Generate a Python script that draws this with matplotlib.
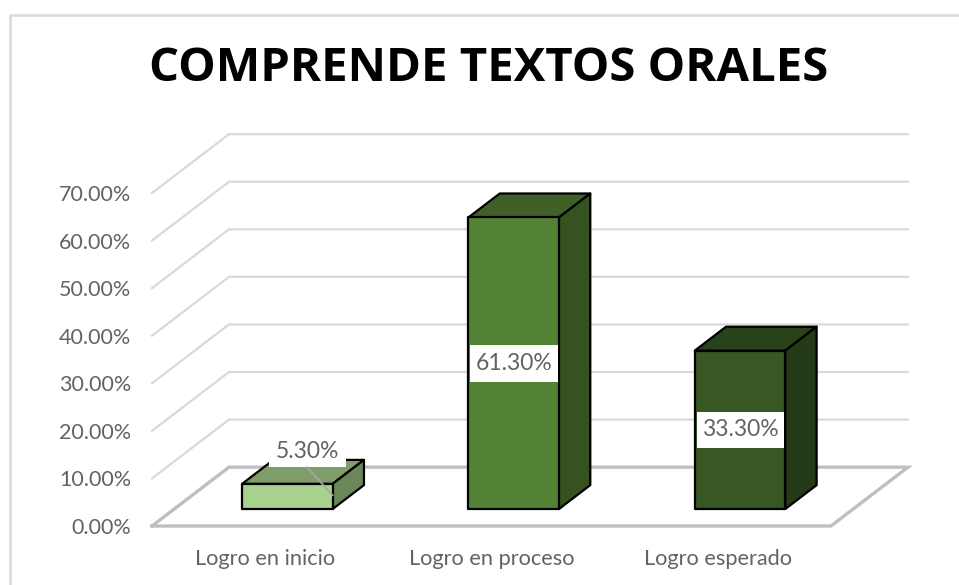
import matplotlib
matplotlib.use("Agg")
import matplotlib.pyplot as plt
from matplotlib.patches import Polygon, Rectangle

categories = ["Logro en inicio", "Logro en proceso", "Logro esperado"]
values = [5.3, 61.3, 33.3]
value_labels = ["5.30%", "61.30%", "33.30%"]
y_ticks = [0, 10, 20, 30, 40, 50, 60, 70]
y_tick_labels = ["0.00%", "10.00%", "20.00%", "30.00%", "40.00%", "50.00%", "60.00%", "70.00%"]
front_colors = ["#A9D18E", "#548235", "#385723"]
top_colors = ["#7F9D6B", "#3F6128", "#2A4219"]
side_colors = ["#6A8759", "#365221", "#253A17"]

W, H = 959, 585
GRID = "#D9D9D9"
FLOOR = "#BFBFBF"
TEXT = "#636363"

# fake 3d: x and y shift per unit of depth, in data units
DX = 77 / 226.3
DY = 59 / 4.77
BAR_W = 0.4
D_FRONT = 0.288
D_BACK = 0.695


def pt(c, v, d=0.0):
    return (c + d * DX, v + d * DY)


fig = plt.figure(figsize=(W / 100, H / 100), dpi=100)
# axes box is the front plane of the chart
ax = fig.add_axes([152 / W, 1 - 526 / H, (831 - 152) / W, (526 - 193) / H])
ax.set_xlim(-0.5, 2.5)
ax.set_ylim(0, 70)
ax.patch.set_visible(False)
for s in ax.spines.values():
    s.set_visible(False)

ax.set_xticks(range(len(categories)))
ax.set_xticklabels(categories, fontsize=15.7, color=TEXT, family="Lato")
ax.set_yticks(y_ticks)
ax.set_yticklabels(y_tick_labels, fontsize=15.5, color=TEXT, family="Lato")
ax.tick_params(axis="both", length=0)
ax.tick_params(axis="x", pad=16.5)
ax.tick_params(axis="y", pad=15)

# walls
for v in y_ticks[1:]:
    pts = [pt(-0.5, v), pt(-0.5, v, 1), pt(2.5, v, 1)]
    ax.plot(*zip(*pts), color=GRID, lw=1.6, clip_on=False, zorder=1, solid_joinstyle="miter")

# floor
floor = [pt(-0.5, 0), pt(-0.5, 0, 1), pt(2.5, 0, 1), pt(2.5, 0), pt(-0.5, 0)]
ax.plot(*zip(*floor), color=FLOOR, lw=2.4, clip_on=False, zorder=2, solid_joinstyle="miter")

# bars
for i, v in enumerate(values):
    l, r = i - BAR_W / 2, i + BAR_W / 2
    style = dict(edgecolor="black", lw=1.6, clip_on=False, zorder=3, joinstyle="round")
    ax.add_patch(Polygon([pt(l, v, D_FRONT), pt(l, v, D_BACK), pt(r, v, D_BACK), pt(r, v, D_FRONT)],
                         facecolor=top_colors[i], **style))
    ax.add_patch(Polygon([pt(r, 0, D_FRONT), pt(r, 0, D_BACK), pt(r, v, D_BACK), pt(r, v, D_FRONT)],
                         facecolor=side_colors[i], **style))
    ax.add_patch(Polygon([pt(l, 0, D_FRONT), pt(r, 0, D_FRONT), pt(r, v, D_FRONT), pt(l, v, D_FRONT)],
                         facecolor=front_colors[i], **style))

# small bar: label sits above it with a leader line
lx, ly = pt(0.089, 12.2, D_FRONT)
ax.add_patch(Rectangle((lx - 0.17, ly - 3.35), 0.34, 6.7, facecolor="white", edgecolor="none",
                       clip_on=False, zorder=4))
ax.plot(*zip(pt(0.087, 8.8, D_FRONT), pt(0.2, 2.9, D_FRONT)), color="#A6A6A6", lw=1.3, clip_on=False, zorder=5)
ax.text(lx, ly, value_labels[0], ha="center", va="center", fontsize=16.5, color=TEXT,
        family="Lato", clip_on=False, zorder=6)

# labels in the middle of the tall bars
for i in [1, 2]:
    cx, cy = pt(i, values[i] / 2, D_FRONT)
    ax.add_patch(Rectangle((cx - BAR_W / 2 + 0.008, cy - 3.85), BAR_W - 0.014, 7.7, facecolor="white",
                           edgecolor="none", clip_on=False, zorder=4))
    ax.text(cx, cy, value_labels[i], ha="center", va="center", fontsize=16.5, color=TEXT,
            family="Lato", clip_on=False, zorder=6)

# chart frame
fig.add_artist(plt.Line2D([9.5 / W, 9.5 / W, 1], [0, 1 - 15 / H, 1 - 15 / H], color=GRID, lw=1.8))

fig.text(489 / W, 1 - 81 / H, "COMPRENDE TEXTOS ORALES", ha="center", va="baseline",
         fontsize=34, fontweight="bold", color="black", family="Open Sans")

plt.savefig("out.png", dpi=100)
plt.close()
